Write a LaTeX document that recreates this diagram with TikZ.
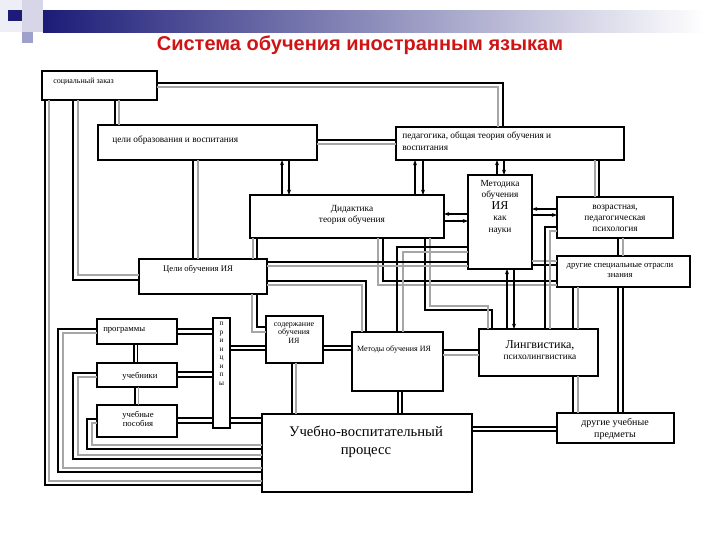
\documentclass[tikz,border=0pt]{standalone}
\usepackage{fontspec}
\setmainfont{Liberation Serif}
\newfontfamily\titlefont{Liberation Sans}
\usetikzlibrary{arrows.meta}
\definecolor{navy}{HTML}{1C1C78}
\definecolor{titlered}{HTML}{D01414}
\definecolor{pale}{HTML}{EEEEF6}
\definecolor{lav}{HTML}{D6D6E8}
\definecolor{lavd}{HTML}{A0A0CC}
\begin{document}
\begin{tikzpicture}[x=0.75pt,y=-0.75pt,
  box/.style={draw, line width=1.1pt, inner sep=0pt, outer sep=0pt},
  bk/.style={draw=black, line width=0.8pt},
  gy/.style={draw=gray!70, line width=0.8pt},
  ar/.style={draw=black, line width=0.8pt, -{Stealth[length=4pt,width=3pt]}},
  lbl/.style={inner sep=0pt, align=center, font=\fontsize{6.5}{7.5}\selectfont}]
\useasboundingbox (0,0) rectangle (720,540);
% decoration
\fill[pale] (0,0) rectangle (22,32);
\fill[lav] (22,0) rectangle (43,32);
\fill[lavd] (22,32) rectangle (33,43);
\fill[navy] (8,10) rectangle (22,21);
\shade[left color=navy, right color=white] (43,10) rectangle (705,32);
\node[font=\titlefont\bfseries\fontsize{15}{18}\selectfont, text=titlered, inner sep=0pt] (title) at (360,45) {Система обучения иностранным языкам};
% boxes
\node[box, minimum width=86.25pt, minimum height=21.75pt] (soc) at (99.5,85.5) {};
\node[box, minimum width=164.25pt, minimum height=26.25pt] (celi) at (207.5,142.5) {};
\node[box, minimum width=171pt, minimum height=24.75pt] (ped) at (510,143.5) {};
\node[box, minimum width=145.5pt, minimum height=32.25pt] (did) at (347,216.5) {};
\node[box, minimum width=48pt, minimum height=70.5pt] (mn) at (500,222) {};
\node[box, minimum width=87pt, minimum height=30.75pt] (voz) at (615,217.5) {};
\node[box, minimum width=99.75pt, minimum height=23.25pt] (drsp) at (623.5,271.5) {};
\node[box, minimum width=96pt, minimum height=26.25pt] (celiya) at (203,276.5) {};
\node[box, minimum width=60pt, minimum height=18.75pt] (prog) at (137,331.5) {};
\node[box, minimum width=60pt, minimum height=18pt] (ucheb) at (137,375) {};
\node[box, minimum width=60pt, minimum height=24pt] (posob) at (137,421) {};
\node[box, minimum width=12.75pt, minimum height=82.5pt] (princ) at (221.5,373) {};
\node[box, minimum width=42.75pt, minimum height=35.25pt] (sod) at (294.5,339.5) {};
\node[box, minimum width=68.25pt, minimum height=44.25pt] (mia) at (397.5,361.5) {};
\node[box, minimum width=89.25pt, minimum height=35.25pt] (ling) at (538.5,352.5) {};
\node[box, minimum width=157.5pt, minimum height=58.5pt] (uvp) at (367,453) {};
\node[box, minimum width=87.75pt, minimum height=22.5pt] (dup) at (615.5,428) {};
% labels
\node[lbl, anchor=west, font=\fontsize{6}{7}\selectfont] (socT) at (53,82) {социальный заказ};
\node[lbl, anchor=west, font=\fontsize{7}{8}\selectfont] (celiT) at (112,140) {цели образования и воспитания};
\node[lbl, anchor=north west, align=left, font=\fontsize{7}{8.5}\selectfont] (pedT) at (402,132) {педагогика, общая теория обучения и\\воспитания};
\node[lbl, font=\fontsize{7}{7.8}\selectfont] (didT) at (352,215) {Дидактика\\теория обучения};
\node[lbl, anchor=north, font=\fontsize{7}{8.6}\selectfont] (mnT) at (500,180) {Методика\\обучения\\{\fontsize{9}{8.6}\selectfont ИЯ}\\как\\науки};
\node[lbl, font=\fontsize{7}{8.2}\selectfont] (vozT) at (615,218) {возрастная,\\педагогическая\\психология};
\node[lbl, font=\fontsize{6.5}{7.5}\selectfont] (drspT) at (620,270) {другие специальные отрасли\\знания};
\node[lbl] (celiyaT) at (198,269) {Цели обучения ИЯ};
\node[lbl, anchor=west] (progT) at (103,330) {программы};
\node[lbl] (uchebT) at (140,376) {учебники};
\node[lbl, font=\fontsize{6.5}{7}\selectfont] (posobT) at (138,419) {учебные\\пособия};
\node[lbl, anchor=north, font=\fontsize{5.5}{6.4}\selectfont] (princT) at (221.5,322) {п\\р\\и\\н\\ц\\и\\п\\ы};
\node[lbl, font=\fontsize{6}{6.5}\selectfont] (sodT) at (294,333) {содержание\\обучения\\ИЯ};
\node[lbl, font=\fontsize{6}{7}\selectfont] (miaT) at (394,349) {Методы обучения ИЯ};
\node[lbl, font=\fontsize{7}{8.5}\selectfont] (lingT) at (540,350) {{\fontsize{9}{8.5}\selectfont Лингвистика,}\\психолингвистика};
\node[lbl, font=\fontsize{11}{13.5}\selectfont] (uvpT) at (366,442) {Учебно-воспитательный\\процесс};
\node[lbl, font=\fontsize{7.5}{8.5}\selectfont] (dupT) at (615,429) {другие учебные\\предметы};
% connectors
\draw[bk] (soc.east|-0,83) -| (ped.north-|503,0);
\draw[gy] (soc.east|-0,87) -| (ped.north-|498,0);
\draw[bk] (soc.south-|115,0) -- (celi.north-|115,0);
\draw[gy] (soc.south-|119,0) -- (celi.north-|119,0);
\draw[bk] (soc.south-|45,0) |- (uvp.west|-0,485);
\draw[gy] (soc.south-|49,0) |- (uvp.west|-0,481);
\draw[bk] (soc.south-|73,0) |- (celiya.west|-0,280);
\draw[gy] (soc.south-|78,0) |- (celiya.west|-0,275);
\draw[bk] (celi.east|-0,140) -- (ped.west|-0,140);
\draw[gy] (celi.east|-0,144) -- (ped.west|-0,144);
\draw[bk] (celi.south-|193,0) -- (celiya.north-|193,0);
\draw[gy] (celi.south-|198,0) -- (celiya.north-|198,0);
\draw[ar] (did.north-|282,0) -- (celi.south-|282,0);
\draw[ar] (celi.south-|289,0) -- (did.north-|289,0);
\draw[ar] (did.north-|415,0) -- (ped.south-|415,0);
\draw[ar] (ped.south-|423,0) -- (did.north-|423,0);
\draw[ar] (mn.north-|497,0) -- (ped.south-|497,0);
\draw[ar] (ped.south-|504,0) -- (mn.north-|504,0);
\draw[gy] (ped.south-|595,0) -- (voz.north-|595,0);
\draw[bk] (ped.south-|599,0) -- (voz.north-|599,0);
\draw[ar] (mn.west|-0,214) -- (did.east|-0,214);
\draw[ar] (did.east|-0,221) -- (mn.west|-0,221);
\draw[ar] (voz.west|-0,209) -- (mn.east|-0,209);
\draw[ar] (mn.east|-0,215) -- (voz.west|-0,215);
\draw[gy] (did.south-|253,0) -- (celiya.north-|253,0);
\draw[bk] (did.south-|257,0) -- (celiya.north-|257,0);
\draw[bk] (did.south-|383,0) |- (drsp.west|-0,281);
\draw[gy] (did.south-|378,0) |- (drsp.west|-0,285);
\draw[bk] (did.south-|425,0) |- (492,310) -- (ling.north-|492,0);
\draw[gy] (did.south-|430,0) |- (488,306) -- (ling.north-|488,0);
\draw[bk] (mn.west|-0,247) -| (mia.north-|397,0);
\draw[gy] (mn.west|-0,252) -| (mia.north-|403,0);
\draw[bk] (celiya.east|-0,262) -- (mn.west|-0,262);
\draw[gy] (celiya.east|-0,266) -- (mn.west|-0,266);
\draw[gy] (mn.east|-0,261) -- (drsp.west|-0,261);
\draw[bk] (mn.east|-0,265) -- (drsp.west|-0,265);
\draw[bk] (celiya.east|-0,281) -| (mia.north-|366,0);
\draw[gy] (celiya.east|-0,285) -| (mia.north-|362,0);
\draw[bk] (celiya.south-|257,0) |- (sod.west|-0,327);
\draw[gy] (celiya.south-|252,0) |- (sod.west|-0,332);
\draw[bk] (prog.west|-0,329) -- (58,329) |- (uvp.west|-0,472);
\draw[gy] (prog.west|-0,333) -- (63,333) |- (uvp.west|-0,468);
\draw[bk] (ucheb.west|-0,373) -- (73,373) |- (uvp.west|-0,459);
\draw[gy] (ucheb.west|-0,377) -- (78,377) |- (uvp.west|-0,455);
\draw[bk] (posob.west|-0,419) -- (87,419) |- (uvp.west|-0,449);
\draw[gy] (posob.west|-0,423) -- (92,423) |- (uvp.west|-0,445);
\draw[bk] (prog.south-|134,0) -- (ucheb.north-|134,0);
\draw[bk] (prog.south-|137.5,0) -- (ucheb.north-|137.5,0);
\draw[bk] (ucheb.south-|135,0) -- (posob.north-|135,0);
\draw[gy] (ucheb.south-|138.5,0) -- (posob.north-|138.5,0);
\draw[bk] (prog.east|-0,329) -- (princ.west|-0,329);
\draw[bk] (prog.east|-0,334) -- (princ.west|-0,334);
\draw[bk] (ucheb.east|-0,372) -- (princ.west|-0,372);
\draw[bk] (ucheb.east|-0,377) -- (princ.west|-0,377);
\draw[bk] (posob.east|-0,418) -- (princ.west|-0,418);
\draw[bk] (posob.east|-0,423) -- (princ.west|-0,423);
\draw[bk] (princ.east|-0,418) -- (uvp.west|-0,418);
\draw[bk] (princ.east|-0,423) -- (uvp.west|-0,423);
\draw[bk] (princ.east|-0,346) -- (sod.west|-0,346);
\draw[bk] (princ.east|-0,350) -- (sod.west|-0,350);
\draw[bk] (sod.east|-0,346) -- (mia.west|-0,346);
\draw[bk] (sod.east|-0,350) -- (mia.west|-0,350);
\draw[bk] (mia.east|-0,350) -- (ling.west|-0,350);
\draw[gy] (mia.east|-0,355) -- (ling.west|-0,355);
\draw[bk] (sod.south-|292,0) -- (uvp.north-|292,0);
\draw[gy] (sod.south-|296,0) -- (uvp.north-|296,0);
\draw[bk] (mia.south-|398,0) -- (uvp.north-|398,0);
\draw[bk] (mia.south-|402,0) -- (uvp.north-|402,0);
\draw[bk] (uvp.east|-0,427) -- (dup.west|-0,427);
\draw[bk] (uvp.east|-0,431) -- (dup.west|-0,431);
\draw[bk] (ling.south-|573,0) -- (dup.north-|573,0);
\draw[gy] (ling.south-|578,0) -- (dup.north-|578,0);
\draw[bk] (drsp.south-|573,0) -- (ling.north-|573,0);
\draw[gy] (drsp.south-|578,0) -- (ling.north-|578,0);
\draw[bk] (voz.south-|618,0) -- (drsp.north-|618,0);
\draw[gy] (voz.south-|623,0) -- (drsp.north-|623,0);
\draw[bk] (drsp.south-|618,0) -- (dup.north-|618,0);
\draw[bk] (drsp.south-|623,0) -- (dup.north-|623,0);
\draw[ar] (ling.north-|507,0) -- (mn.south-|507,0);
\draw[ar] (mn.south-|514,0) -- (ling.north-|514,0);
\draw[bk] (voz.west|-0,227) -| (ling.north-|545,0);
\draw[gy] (voz.west|-0,231) -| (ling.north-|550,0);
\end{tikzpicture}
\end{document}
